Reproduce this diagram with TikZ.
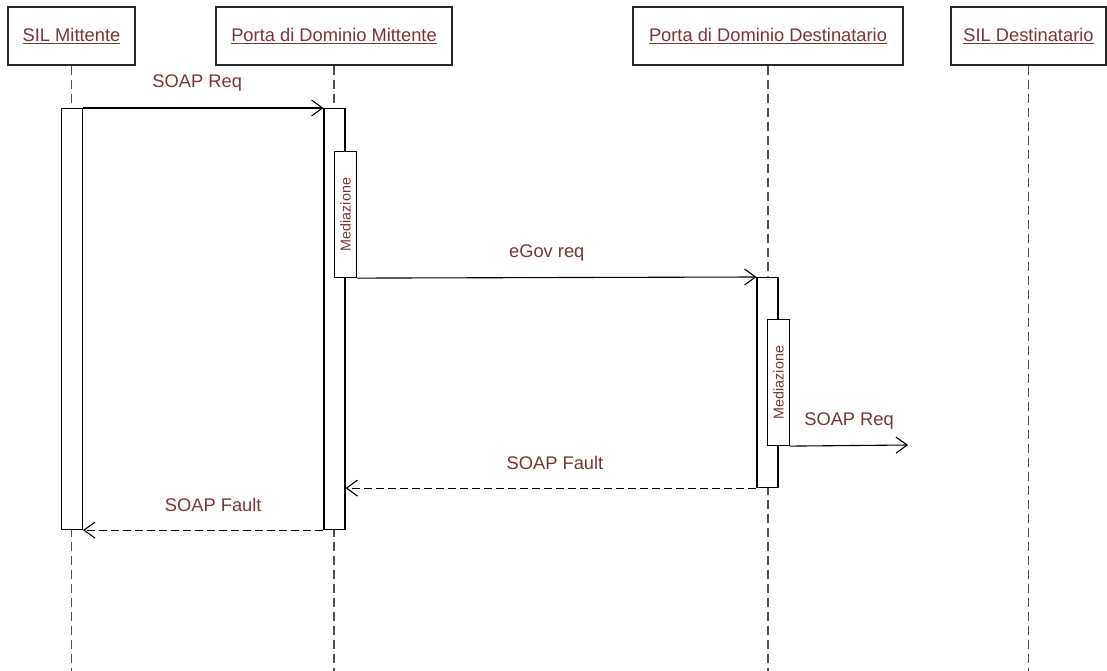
\documentclass[tikz,border=0pt]{standalone}
\usepackage{fontspec}
\setmainfont{Liberation Sans}
\usetikzlibrary{arrows.meta,positioning}
\definecolor{msgred}{RGB}{122,52,52}
\definecolor{lifegray}{RGB}{80,80,80}

\begin{document}
\begin{tikzpicture}[x=1pt,y=-1pt,
	headbox/.style={draw=black!85, line width=1.1pt, minimum height=58pt, inner sep=0pt, text=msgred, font=\fontsize{18.3}{20}\selectfont},
	lifeline/.style={draw=lifegray, line width=1.1pt, dash pattern=on 9pt off 5pt},
	actbar/.style={draw=black, fill=white, line width=1.1pt, minimum width=21pt, inner sep=0pt, anchor=north},
	medbox/.style={draw=black, fill=white, line width=1.1pt, minimum width=22pt, minimum height=126pt, inner sep=0pt, anchor=north west},
	medlabel/.style={rotate=90, inner sep=0pt, text=msgred, font=\fontsize{14.3}{15}\selectfont},
	msg/.style={draw=black, line width=1.1pt, -{Straight Barb[length=11pt,width=16pt]}},
	reply/.style={msg, dash pattern=on 8pt off 4pt},
	msglabel/.style={yshift=25pt, text=msgred, font=\fontsize{18.3}{20}\selectfont}]
	\useasboundingbox (0,0) rectangle (1107,671);
	% participants
	\node[headbox, minimum width=127pt] (silm) at (71.5,36) {\underline{SIL Mittente}};
	\node[headbox, minimum width=236pt] (pdm) at (334,36) {\underline{Porta di Dominio Mittente}};
	\node[headbox, minimum width=270pt] (pdd) at (768,36) {\underline{Porta di Dominio Destinatario}};
	\node[headbox, minimum width=155pt] (sild) at (1028.5,36) {\underline{SIL Destinatario}};
	\foreach \p in {silm,pdm,pdd,sild}
		\draw[lifeline] (\p.south) -- ++(0,606);
	% activations
	\node[actbar, minimum height=421pt] (barsm) at (72,108) {};
	\node[actbar, minimum height=421pt] (barpm) at (334.5,108) {};
	\node[actbar, minimum height=210pt] (barpd) at (767.5,277) {};
	\node[medbox] (medpm) at (334,151) {};
	\node[medbox] (medpd) at (767,319) {};
	\node[medlabel] (medpmtext) at (medpm) {Mediazione};
	\node[medlabel] (medpdtext) at (medpd) {Mediazione};
	% messages
	\coordinate (sreqend) at (908,445);
	\draw[msg] (barsm.north east) -- node[msglabel, xshift=-6pt] (sreqa) {SOAP Req} (barpm.north west);
	\draw[msg] (medpm.south east) -- node[msglabel, xshift=-10pt] (egovreq) {eGov req} (barpd.north west);
	\draw[msg] (medpd.south east) -- node[msglabel] (sreqb) {SOAP Req} (sreqend);
	\draw[reply] (barpd.south west) -- node[msglabel, xshift=4pt] (sfaulta) {SOAP Fault} (barpd.south west -| barpm.east);
	\draw[reply] (barpm.south west) -- node[msglabel, xshift=10pt] (sfaultb) {SOAP Fault} (barsm.south east);
\end{tikzpicture}
\end{document}
